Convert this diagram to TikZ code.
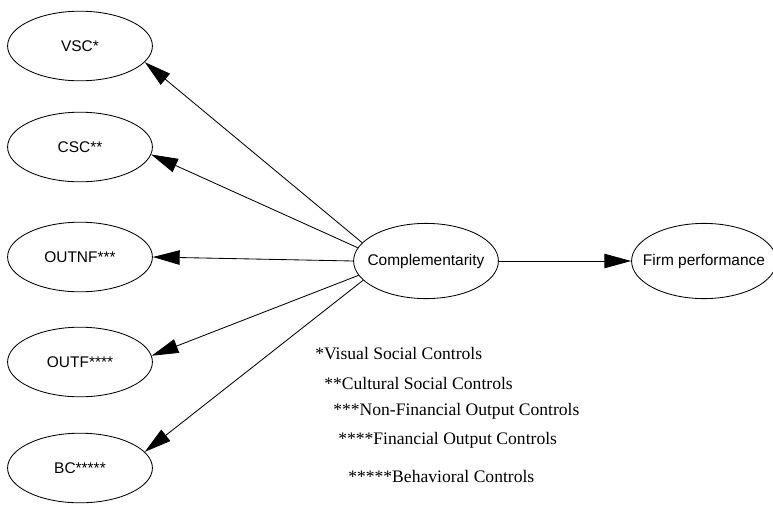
\documentclass[tikz,border=0pt]{standalone}
\usepackage{fontspec}
\setmainfont{Liberation Serif}
\newfontfamily\arialfont{Liberation Sans}
\usetikzlibrary{shapes.geometric,arrows.meta}

\begin{document}
\begin{tikzpicture}[x=0.025cm, y=-0.025cm,
    construct/.style={draw, ellipse, line width=0.6pt, inner sep=0pt,
        minimum width=3.62cm, minimum height=1.74cm,
        font=\arialfont\fontsize{11}{13}\selectfont},
    bigconstruct/.style={construct, inner xsep=-7pt, minimum height=1.88cm},
    legend/.style={anchor=west, inner sep=0pt,
        font=\fontsize{12.5}{15}\selectfont},
    arr/.style={-{Triangle[length=0.67cm, width=0.36cm]}, line width=0.6pt}]
\useasboundingbox (0,0) rectangle (773,506);

% Control types
\node[construct] (vsc) at (80,46) {VSC*};
\node[construct] (csc) at (80,147) {CSC**};
\node[construct] (outnf) at (80,257) {OUTNF***};
\node[construct] (outf) at (80,362) {OUTF****};
\node[construct] (bc) at (80,468) {BC*****};

% Complementarity and outcome
\node[bigconstruct] (compl) at (426,261) {Complementarity};
\node[bigconstruct] (firm) at (704,261) {Firm performance};

% Arrows
\draw[arr] (compl.164) -- (vsc.-14);
\draw[arr] (compl.169) -- (csc.-6);
\draw[arr] (compl.west) -- (outnf.east);
\draw[arr] (compl.192) -- (outf.5);
\draw[arr] (compl.197) -- (bc.14);
\draw[arr] (compl.east) -- (firm.west);

% Legend
\node[legend] (lvsc) at (315,354) {*Visual Social Controls};
\node[legend] (lcsc) at (324,383) {**Cultural Social Controls};
\node[legend] (loutnf) at (333,411) {***Non-Financial Output Controls};
\node[legend] (loutf) at (338,440) {****Financial Output Controls};
\node[legend] (lbc) at (348,476) {*****Behavioral Controls};
\end{tikzpicture}
\end{document}
